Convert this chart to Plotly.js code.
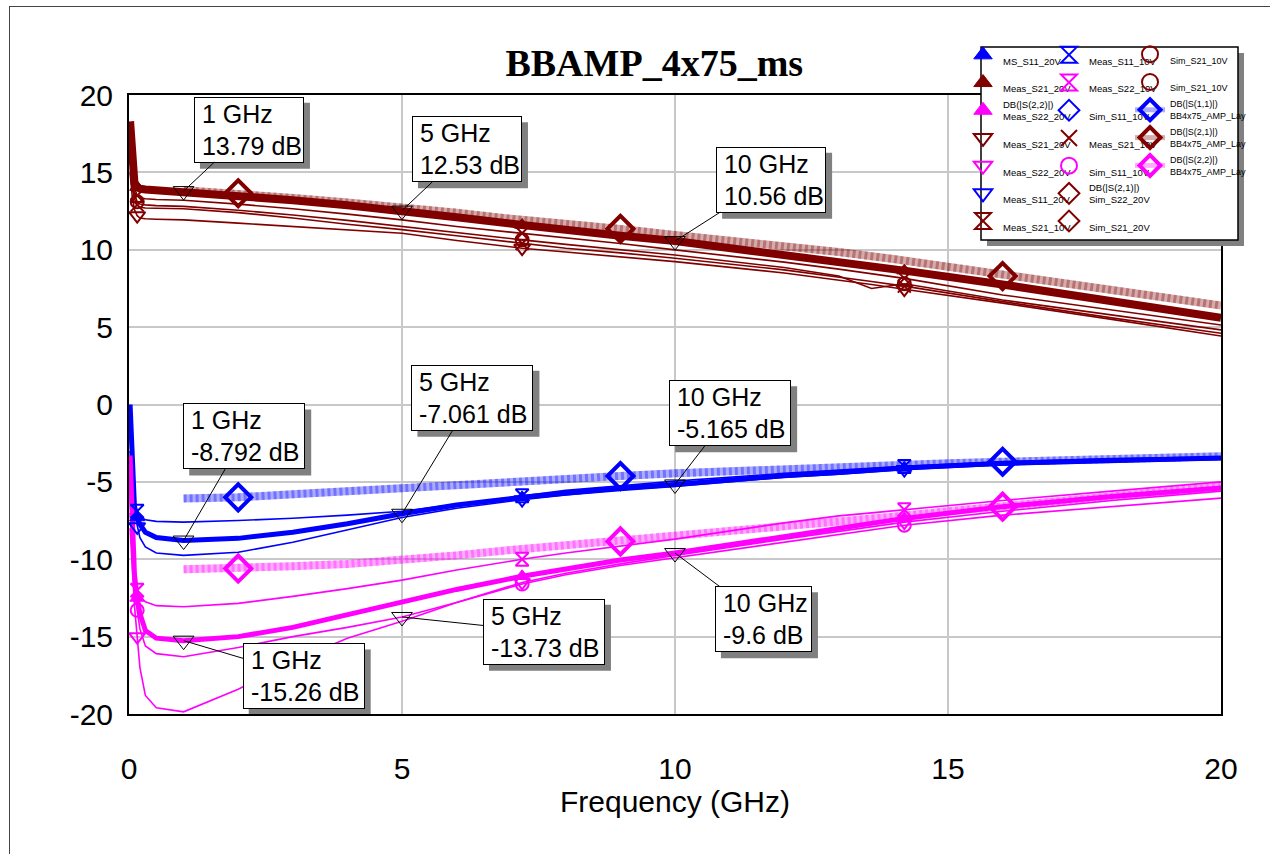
<!DOCTYPE html>
<html>
<head>
<meta charset="utf-8">
<script src="https://cdn.plot.ly/plotly-3.0.1.min.js"></script>
<style>
html,body{margin:0;padding:0;background:#fff;overflow:hidden;}
#chart{width:1270px;height:854px;}
#frame{position:absolute;left:9px;top:6px;width:1400px;height:1000px;border-left:1px solid #444;border-top:1px solid #444;pointer-events:none;}
</style>
</head>
<body>
<div id="chart"></div>
<div id="frame"></div>
<script>
// ---------------- data ----------------
const F = [0.02,0.06,0.1,0.15,0.2,0.3,0.5,1,2,3,4,5,6,7.2,8,9,10,12,13,13.6,14.2,16,18,20];

// S21 (dB)
const s21Main = [18.3,15.6,14.3,14.05,13.95,13.9,13.85,13.79,13.55,13.2,12.88,12.53,12.1,11.6,11.25,10.9,10.56,9.7,9.25,8.95,8.65,7.75,6.7,5.6];
const s21T1   = [17.0,15.0,14.0,13.5,13.35,13.3,13.25,13.2,12.95,12.65,12.3,11.93,11.5,11.07,10.75,10.4,9.99,9.2,8.75,8.45,8.15,7.08,6.1,5.14];
const s21T2   = [16.5,14.6,13.6,13.1,12.95,12.9,12.85,12.8,12.55,12.25,11.9,11.5,11.1,10.64,10.35,10.0,9.66,8.85,8.3,7.5,7.8,6.75,5.8,4.82];
const s21T3   = [16.0,14.2,13.3,12.9,12.75,12.7,12.68,12.65,12.4,12.05,11.65,11.3,10.9,10.4,10.1,9.8,9.45,8.7,8.25,7.95,7.65,6.65,5.6,4.6];
const s21T4   = [15.0,13.4,12.6,12.2,12.05,12.0,11.97,11.93,11.72,11.5,11.29,11.07,10.6,10.1,9.85,9.55,9.23,8.5,8.05,7.75,7.45,6.55,5.5,4.43];

// S11 (dB)
const s11Main = [0,-4.5,-6.6,-7.3,-7.75,-8.25,-8.6,-8.79,-8.65,-8.25,-7.7,-7.06,-6.5,-6.0,-5.7,-5.4,-5.165,-4.6,-4.4,-4.25,-4.1,-3.8,-3.6,-3.45];
const s11Up   = [-2.0,-5.0,-6.4,-6.9,-7.2,-7.45,-7.55,-7.6,-7.5,-7.35,-7.15,-6.9,-6.45,-5.9,-5.55,-5.25,-4.95,-4.45,-4.25,-4.1,-4.0,-3.7,-3.5,-3.4];
const s11Lo   = [-3.0,-5.8,-7.0,-7.9,-8.6,-9.2,-9.6,-9.75,-9.55,-8.9,-8.1,-7.3,-6.7,-6.15,-5.85,-5.55,-5.3,-4.7,-4.5,-4.35,-4.2,-3.9,-3.7,-3.55];

// S22 (dB)
const s22Main = [-3.3,-8.0,-11.0,-12.5,-13.5,-14.6,-15.1,-15.26,-15.0,-14.4,-13.6,-12.75,-11.95,-11.1,-10.6,-10.05,-9.6,-8.5,-8.0,-7.7,-7.36,-6.6,-5.95,-5.4];
const s22T1   = [-6.0,-9.5,-11.3,-12.0,-12.4,-12.75,-13.0,-13.07,-12.85,-12.4,-11.9,-11.35,-10.7,-10.0,-9.6,-9.15,-8.7,-7.65,-7.2,-7.0,-6.8,-6.2,-5.6,-5.0];
const s22T2   = [-7.0,-10.0,-12.0,-13.3,-14.5,-15.6,-16.1,-16.3,-15.7,-15.0,-14.4,-13.73,-12.8,-11.6,-11.0,-10.4,-9.9,-8.9,-8.4,-8.1,-7.8,-7.15,-6.6,-6.05];
const s22T3   = [-8.0,-11.0,-13.0,-15.0,-17.0,-18.8,-19.6,-19.86,-18.4,-16.6,-15.1,-14.0,-12.8,-11.5,-10.9,-10.3,-9.75,-8.7,-8.2,-7.9,-7.6,-6.9,-6.2,-5.6];

// layout simulation (BB4x75_AMP_Lay)
const FL = [1,2,3,4,5,6,7,8,9,10,11,12,13,14,15,16,17,18,19,20];
const s21Lay = [13.85,13.65,13.35,13.05,12.75,12.4,12.0,11.7,11.35,10.95,10.6,10.25,9.85,9.4,8.9,8.3,7.85,7.4,6.9,6.4];
const s11Lay = [-6.07,-6.0,-5.8,-5.6,-5.35,-5.1,-4.9,-4.75,-4.62,-4.45,-4.3,-4.15,-4.0,-3.9,-3.8,-3.7,-3.6,-3.5,-3.42,-3.35];
const s22Lay = [-10.65,-10.6,-10.45,-10.3,-10.05,-9.75,-9.4,-9.1,-8.85,-8.55,-8.2,-7.85,-7.55,-7.25,-6.9,-6.6,-6.3,-6.0,-5.65,-5.3];

const markFreq = [0.15, 7.2, 14.2];
const layMarkFreq = [2, 9, 16];

// marker read-outs
const labelFreq = [1, 5, 10];
const s21Label = [13.79, 12.53, 10.56];
const s11Label = [-8.792, -7.061, -5.165];
const s22Label = [-15.26, -13.73, -9.6];

const xTickVals = [0,5,10,15,20];
const xTickText = ['0','5','10','15','20'];
const yTickVals = [-20,-15,-10,-5,0,5,10,15,20];
const yTickText = ['-20','-15','-10','-5','0','5','10','15','20'];

const legend1Labels = ['MS_S11_20V','Meas_S21_20V','DB(|S(2,2)|)<br>Meas_S22_20V','Meas_S21_20V','Meas_S22_20V','Meas_S11_20V','Meas_S21_10V'];
const legend2Labels = ['Meas_S11_10V','Meas_S22_10V','Sim_S11_10V','Meas_S21_10V','Sim_S11_10V','DB(|S(2,1)|)<br>Sim_S22_20V','Sim_S21_20V'];
const legend3Labels = ['Sim_S21_10V','Sim_S21_10V','DB(|S(1,1)|)<br>BB4x75_AMP_Lay','DB(|S(2,1)|)<br>BB4x75_AMP_Lay','DB(|S(2,2)|)<br>BB4x75_AMP_Lay'];

// ---------------- styles ----------------
const BLUE = '#0000ff', RED = '#800000', MAG = '#ff00ff';
const SANS = 'Liberation Sans, Arial, sans-serif';
const LEGFONT = 'Liberation Sans Narrow, Arial Narrow, Liberation Sans, Arial, sans-serif';
const LAYCOL = {s21:'rgba(128,0,0,0.33)', s11:'rgba(0,0,255,0.33)', s22:'rgba(255,0,255,0.33)'};

function pick(xs, ys, at) {
  const ox = [], oy = [];
  xs.forEach((x, i) => { if (at.includes(x)) { ox.push(x); oy.push(ys[i]); } });
  return {x: ox, y: oy};
}
function line(xs, ys, color, width, dash) {
  return {type:'scatter', mode:'lines', x:xs, y:ys, line:{color:color, width:width, dash:dash||'solid'},
          showlegend:false, hoverinfo:'skip'};
}
function marks(xs, ys, at, symbol, color, size, lw) {
  const p = pick(xs, ys, at);
  return {type:'scatter', mode:'markers', x:p.x, y:p.y, cliponaxis:false,
          marker:{symbol:symbol, color:color, size:size, line:{color:color, width:lw}},
          showlegend:false, hoverinfo:'skip'};
}

const traces = [];
// layout-sim striped lines
[[s21Lay,'s21'],[s11Lay,'s11'],[s22Lay,'s22']].forEach(([ys,k]) => {
  traces.push(line(FL, ys, LAYCOL[k], 8));
  traces.push(line(FL, ys, LAYCOL[k], 8, '3px,3px'));
});
// thin measured/simulated lines
[s21T1,s21T2,s21T3,s21T4].forEach(ys => traces.push(line(F, ys, RED, 1.6)));
[s11Up,s11Lo].forEach(ys => traces.push(line(F, ys, BLUE, 1.6)));
[s22T1,s22T2,s22T3].forEach(ys => traces.push(line(F, ys, MAG, 1.6)));
// thick lines
traces.push(line(F, s21Main, RED, 8));
traces.push(line(F, s11Main, BLUE, 5));
traces.push(line(F, s22Main, MAG, 5));
// markers along traces
traces.push(marks(F, s21Main, markFreq, 'triangle-up', RED, 13, 1));
traces.push(marks(F, s21T1, markFreq, 'hourglass-open', RED, 13, 2));
traces.push(marks(F, s21T2, markFreq, 'circle-open', RED, 13, 2));
traces.push(marks(F, s21T3, markFreq, 'x-thin-open', RED, 13, 2));
traces.push(marks(F, s21T4, markFreq, 'triangle-down-open', RED, 14, 2));
traces.push(marks(F, s11Main, markFreq, 'triangle-up', BLUE, 13, 1));
traces.push(marks(F, s11Up, markFreq, 'hourglass-open', BLUE, 13, 2));
traces.push(marks(F, s11Lo, markFreq, 'triangle-down-open', BLUE, 14, 2));
traces.push(marks(F, s22Main, markFreq, 'triangle-up', MAG, 13, 1));
traces.push(marks(F, s22T1, markFreq, 'hourglass-open', MAG, 13, 2));
traces.push(marks(F, s22T2, markFreq, 'circle-open', MAG, 13, 2));
traces.push(marks(F, s22T3, markFreq, 'triangle-down-open', MAG, 14, 2));
// bold diamonds on layout lines
traces.push(marks(FL, s21Lay, layMarkFreq, 'diamond-open', RED, 20, 4));
traces.push(marks(FL, s11Lay, layMarkFreq, 'diamond-open', BLUE, 20, 4));
traces.push(marks(FL, s22Lay, layMarkFreq, 'diamond-open', MAG, 20, 4));
// read-out markers
[s21Label, s11Label, s22Label].forEach(ys => {
  traces.push({type:'scatter', mode:'markers', x:labelFreq, y:ys, cliponaxis:false,
    marker:{symbol:'triangle-down-open', size:18, color:'#000', line:{color:'#000', width:1}},
    showlegend:false, hoverinfo:'skip'});
});

// legend entries
const legendStyles = {
  legend: [['triangle-up',BLUE,1],['triangle-up',RED,1],['triangle-up',MAG,1],['triangle-down-open',RED,2],['triangle-down-open',MAG,2],['triangle-down-open',BLUE,2],['hourglass-open',RED,2]],
  legend2: [['hourglass-open',BLUE,2],['hourglass-open',MAG,2],['diamond-open',BLUE,2],['x-thin-open',RED,2],['circle-open',MAG,2],['diamond-open',RED,2],['diamond-open',RED,2]],
  legend3: [['circle-open',RED,2],['circle-open',RED,2],['diamond-open',BLUE,4,'s11'],['diamond-open',RED,4,'s21'],['diamond-open',MAG,4,'s22']]
};
const legendLabels = {legend: legend1Labels, legend2: legend2Labels, legend3: legend3Labels};
Object.keys(legendLabels).forEach(lg => {
  legendLabels[lg].forEach((lab, i) => {
    const st = legendStyles[lg][i];
    const name = lab.includes('<br>') ? lab : '\u00a0<br>' + lab;
    const tr = {type:'scatter', mode: st[3] ? 'lines+markers' : 'markers', x:[null], y:[null],
      name:name, legend:lg, showlegend:true, hoverinfo:'skip',
      marker:{symbol:st[0], color:st[1], size:16, line:{color:st[1], width:st[2]}}};
    if (st[3]) tr.line = {color: LAYCOL[st[3]], width:5};
    traces.push(tr);
  });
});

// read-out boxes: [freq index, values, box centre x, box centre y, width]
const boxes = [
  [0, s21Label, 2.197, 17.76, 108], [1, s21Label, 6.19, 16.50, 108], [2, s21Label, 11.76, 14.53, 108],
  [0, s11Label, 2.11, -2.06, 120], [1, s11Label, 6.29, 0.44, 120], [2, s11Label, 11.01, -0.56, 120],
  [0, s22Label, 3.2, -17.57, 120], [1, s22Label, 7.6, -14.69, 120], [2, s22Label, 11.62, -13.88, 95]
];
const annotations = [], shapes = [];
const BOXH = 64;
boxes.forEach(([i, vals, cx, cy, w]) => {
  annotations.push({
    x: labelFreq[i], y: vals[i], xref:'x', yref:'y', axref:'x', ayref:'y', ax: cx, ay: cy,
    text: '\u00a0' + labelFreq[i] + ' GHz<br>\u00a0' + vals[i] + ' dB',
    showarrow:true, arrowhead:0, arrowwidth:1, arrowcolor:'#000', standoff:0, startstandoff:0,
    bgcolor:'#ffffff', bordercolor:'#000', borderwidth:1, borderpad:0,
    width:w, height:BOXH, align:'left', valign:'middle',
    font:{family:SANS, size:25, color:'#000'}
  });
  shapes.push({type:'rect', xref:'x', yref:'y', xsizemode:'pixel', ysizemode:'pixel',
    xanchor: cx, yanchor: cy, x0: -(w+2)/2 + 6, x1: (w+2)/2 + 6, y0: -(BOXH+2)/2 - 6, y1: (BOXH+2)/2 - 6,
    fillcolor:'#808080', line:{width:0}, layer:'above'});
});
// legend frame with shadow
const px = p => (p - 129) / 1092, py = p => (714 - p) / 619;
shapes.push({type:'rect', xref:'paper', yref:'paper', x0:px(987), x1:px(1244), y0:py(246), y1:py(53),
  fillcolor:'#808080', line:{width:0}, layer:'above'});
shapes.push({type:'rect', xref:'paper', yref:'paper', x0:px(981), x1:px(1238), y0:py(240), y1:py(47),
  fillcolor:'#ffffff', line:{color:'#000', width:1.5}, layer:'above'});

const legBase = {xanchor:'left', yanchor:'top', bgcolor:'rgba(0,0,0,0)', borderwidth:0,
  font:{family:LEGFONT, size:9.5, color:'#000'}, traceorder:'normal'};

const layout = {
  width:1270, height:854,
  margin:{l:129, r:49, t:95, b:140},
  paper_bgcolor:'#ffffff', plot_bgcolor:'#ffffff',
  showlegend:true,
  title:{text:'BBAMP_4x75_ms', x:0.481, xref:'paper', xanchor:'center', y:0.927, yref:'container', yanchor:'middle',
         font:{family:'Liberation Serif, Times New Roman, serif', size:38, weight:'bold', color:'#000'}},
  xaxis:{range:[0,20], tickvals:xTickVals, ticktext:xTickText, showgrid:true, gridcolor:'#c8c8c8', gridwidth:2,
         zeroline:false, showline:true, mirror:true, linecolor:'#000', linewidth:2, ticks:'',
         ticklabelstandoff:27, tickfont:{family:SANS, size:30, color:'#000'},
         title:{text:'Frequency (GHz)', font:{family:SANS, size:30, color:'#000'}, standoff:4}},
  yaxis:{range:[-20,20], tickvals:yTickVals, ticktext:yTickText, showgrid:true, gridcolor:'#c8c8c8', gridwidth:2,
         zeroline:false, showline:true, mirror:true, linecolor:'#000', linewidth:2, ticks:'',
         ticklabelstandoff:8, tickfont:{family:SANS, size:30, color:'#000'}},
  legend: Object.assign({x:px(963), y:py(36)}, legBase),
  legend2: Object.assign({x:px(1049), y:py(36)}, legBase),
  legend3: Object.assign({x:px(1130), y:py(36)}, legBase, {font:{family:LEGFONT, size:9, color:'#000'}, traceorder:'grouped', tracegroupgap:1.4}),
  annotations: annotations,
  shapes: shapes,
  hovermode:false
};
// give each legend3 entry its own group so the row gap matches the other columns
traces.filter(t => t.legend === 'legend3').forEach((t, i) => { t.legendgroup = 'l3_' + i; });

Plotly.newPlot('chart', traces, layout, {staticPlot:true, displayModeBar:false});
</script>
</body>
</html>
